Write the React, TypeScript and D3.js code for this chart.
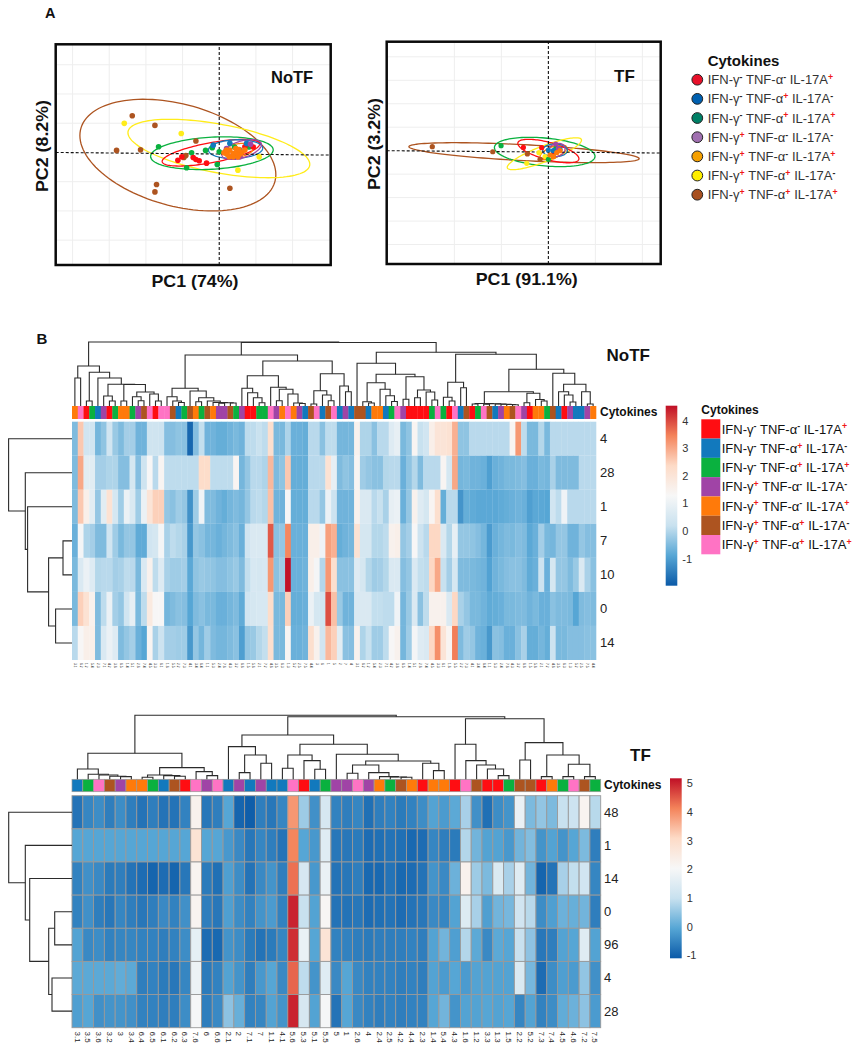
import * as d3 from "d3";
import { useEffect, useRef } from "react";

// cytokine classes
const classColors: Record<string, string> = {
  R: "#ff0d12",
  B: "#1279bd",
  G: "#0ab13f",
  P: "#a044a6",
  O: "#ff7a0a",
  N: "#ad5420",
  K: "#ff73c4",
};
const classSigns = [
  ["-", "-", "+"],
  ["-", "+", "-"],
  ["-", "+", "+"],
  ["+", "-", "-"],
  ["+", "-", "+"],
  ["+", "+", "-"],
  ["+", "+", "+"],
];
const pcaLegendColors = ["#e8102a", "#0060b0", "#008066", "#a070b0", "#f5a000", "#ffee00", "#a85020"];
const heatLegendClasses = ["R", "B", "G", "P", "O", "N", "K"];

// PCA, NoTF: [pc1, pc2]
const noTfBrown = [[-11.86, 2.51], [-8.77, 1.85], [-14, 0.14], [-10.73, 0.18], [-3.18, 0.78], [-8.55, -2.19], [-8.77, -2.7], [1.45, -2.45], [-4.82, -0.34], [-4.55, -0.21]];
const noTfYellow = [[-12.95, 1.99], [-5.18, 1.3], [2.55, -1.21], [5.45, -0.3]];
const noTfGreen = [[-8.27, 0.39], [-3.77, -0.02], [-4.45, -1.05], [-1.86, 0.14], [-0.95, 0.32], [-0.27, -0.82], [0, 0.05], [2.09, 0.37], [4.05, 0.37]];
const noTfRed = [[-5.64, -0.53], [-3.55, -0.34], [-3.18, -0.48], [-2.73, -0.57], [-1.73, -0.73], [-5.1, -0.3], [4.64, 0.37], [3.5, 0.39], [1.91, -0.18]];
const noTfBlue = [[-0.82, 0.5], [1.45, 0.62], [2.82, 0.16], [3.73, 0.62]];
const noTfPurple = [[1, 0.27], [4.27, 0.57], [2.82, -0.3]];
const noTfOrange = [[0.64, -0.02], [1.09, -0.11], [1.45, 0.16], [1.91, -0.07], [2.27, 0.27], [2.55, -0.3], [3.05, -0.02], [3.5, 0.16], [1.91, -0.3], [1.36, -0.3], [1, 0.16], [2.82, -0.11], [2.36, -0.02], [2.7, 0.2]];

// PCA, TF
const tfBrown = [[-24.7, 0.34], [-11.84, -0.09], [-4.47, -0.28], [-1.77, -0.74], [1.06, -0.5]];
const tfYellow = [[-1.99, -0.17], [-4.6, -1.08], [-0.7, -0.5]];
const tfGreen = [[-10.07, 0.43], [0, -0.74], [1.6, 0.2]];
const tfRed = [[-5.32, 0.28], [-1.42, 0.26], [1.06, -0.09]];
const tfBlue = [[0, 0.06], [2.48, 0.11], [1.06, 0]];
const tfPurple = [[1.56, 0.57], [2.13, 0.2]];
const tfOrange = [[0.35, -0.37], [1.06, -0.51], [1.77, -0.17], [2.48, 0]];

// ellipses: [cx, cy, xr, yr, rho]
const noTfEllipses: [string, number[]][] = [
  ["N", [-5.64, -0.18, 13.36, 3.82, -0.35]],
  ["Y", [-0.05, 0.27, 12.4, 2.0, -0.54]],
  ["G", [-1.0, -0.05, 8.36, 1.12, 0.2]],
  ["R", [-1.14, -0.02, 6.64, 0.91, 0.65]],
  ["B", [2.23, 0.23, 3.7, 0.64, 0.1]],
  ["P", [3.05, 0.2, 2.7, 0.68, 0.5]],
  ["O", [2.6, 0.14, 2.05, 0.48, 0.3]],
];
const tfEllipses: [string, number[]][] = [
  ["N", [-5.18, -0.17, 24.5, 0.85, -0.6]],
  ["G", [-0.78, -0.11, 10.7, 1.25, -0.3]],
  ["Y", [-0.85, -0.26, 7.9, 1.36, 0.85]],
  ["R", [0, -0.03, 6.5, 1, -0.65]],
  ["O", [1.06, -0.14, 2.84, 0.63, 0.6]],
  ["B", [1.42, 0.03, 2.63, 0.54, 0]],
  ["P", [1.77, 0.06, 1.77, 0.57, 0.2]],
];

// heatmap NoTF
const noTfRows = ["4", "28", "1", "7", "10", "0", "14"];
const noTfClasses = "O K R G B P R G O O G P N K R K K N B G N O G N O P P N G P R R G G K P O K O P B N K B N K B P B N N B O O B G K P R R R R G K G R K B N R G K N B P O N K P R O O G N B R P B B P O".split(" ");
const noTfCols = "3.1 6.2 1.2 5.4 2.3 7.1 4.2 3.6 6.5 1.4 5.1 2.6 7.4 4.5 3.3 6.1 1.6 5.5 2.2 7.3 4.1 3.4 6.4 1.1 5.3 2.4 7.6 4.3 3.2 6.6 1.5 5.6 2.1 7.2 4.6 3.5 6.3 1.3 5.2 2.5 7.5 4.4 3 6 1 5 2 7 4 3.1 6.2 1.2 5.4 2.3 7.1 4.2 3.6 6.5 1.4 5.1 2.6 7.4 4.5 3.3 6.1 1.6 5.5 2.2 7.3 4.1 3.4 6.4 1.1 5.3 2.4 7.6 4.3 3.2 6.6 1.5 5.6 2.1 7.2 4.6 3.5 6.3 1.3 5.2 2.5 7.5 4.4".split(" ");
const noTfDay4 = [-0.5, 2.6, 0.4, 0.4, -0.6, -0.35, 0.4, -0.25, -0.5, -0.15, -0.15, -0.65, -0.65, 0.35, 0.35, 0.3, -0.45, -0.45, -0.35, -0.4, -1.8, -0.45, 0.15, -0.65, -0.65, -0.75, -0.75, -0.65, -0.55, -0.65, 0.1, 0.1, 0.25, 0.1, 2.2, -0.55, -0.55, -0.05, -0.7, -0.7, -0.75, 0.05, 0.05, -0.4, 0.1, 0.1, -0.6, -0.6, -0.6, 1.5, -0.05, -0.05, -0.4, 0.05, 0.05, 0.7, 0.9, -0.55, -0.35, 1.4, 0.2, 0.4, 1.6, 2, 2, 2.1, 2.9, -0.35, -0.35, 0.05, 0.05, 0.05, 0.05, 0.05, 0.05, 0.05, 1.4, 3.2, 0.1, -0.55, -0.55, 0, -0.55, 0.05, 0.05, 0.05, 0.05, 0.05, 0.05, 0.05, 0.05];
const noTfDay28 = [-0.5, 3, 0.8, 0.8, -0.15, -0.15, -0.05, -0.05, -0.45, -0.45, 0.5, -0.45, 0.35, 1.3, 0.05, 1.4, 0.1, 0.1, 0.1, 0.1, 0.1, 0.1, 2.3, 2.3, 0.1, 0.1, 0.1, 0.1, 1.4, -0.6, -0.3, 0.05, 0.05, -0.05, 2.8, -0.5, -0.35, 2.6, -0.75, -0.75, -0.75, 0.05, 0.05, 0.05, 2.1, 0.9, -0.5, -0.35, -0.45, 1.4, -0.2, -0.3, -0.4, -0.4, 0, 0.05, 0.05, -0.7, -0.35, 0, -0.5, 0.05, 0.05, 0.05, 1.4, 0.5, 3, -0.6, -0.55, -0.65, -0.65, -0.7, -1, -0.7, -0.65, -0.55, -0.55, -0.5, -0.45, -0.7, -0.7, -0.55, -0.6, -0.1, -0.5, -0.5, -0.5, -0.5, 0.05, 0.05, 0.05];
const noTfDay1 = [-0.5, 2.6, 1.6, 0.8, -0.3, 0.8, 2.1, 0.5, -0.2, 1, 0.6, -0.2, 1, 2, 2.5, 2.5, -0.3, -0.4, -0.2, -0.3, -1.2, -0.2, 1.1, -0.5, -0.5, -0.65, -0.75, -0.6, -0.5, -0.6, -0.3, 0.05, 0.1, 0, 2.7, -0.65, -0.65, 1.3, -0.75, -0.75, -0.75, 0.05, 0.05, -0.3, 1, 0.3, -0.65, -0.65, -0.65, 1.5, 0.6, 0.6, 0.05, 0.2, -0.1, 0.9, 1, -0.7, -0.3, 1.5, 0.7, 0.5, 1.4, 2.2, -0.75, 0.05, 0.05, -1.15, -0.75, -0.8, -0.85, -0.85, -0.85, -0.85, -0.8, -0.75, -0.7, -0.65, -0.7, -1, -0.85, -0.85, -0.9, 0.4, 0.1, 1.1, 0.05, 0.05, 0.05, 0.05, 0.05];
const noTfDay7 = [-0.7, 1.2, -0.05, -0.15, -0.5, -0.5, 0.4, -0.2, -0.55, -0.3, -0.3, -0.8, -0.8, 0.4, 0.5, 1.2, -0.1, 0.1, 0, -0.1, -1.1, -0.3, -0.4, -0.6, -0.6, -0.7, -0.6, -0.5, -0.4, -0.7, 0.4, 0.6, 0.6, 0.6, 3.85, -0.4, -0.3, 3.4, -0.7, -0.7, -0.7, 1.6, 1.6, 1.1, 3.1, 2.9, -0.75, -0.65, -0.6, 2.1, 0.5, 0.5, 0, 0, 0.1, 1.5, 1.6, -0.3, -0.15, 1.3, 0.3, 0.05, 2.4, 2.4, 0.6, 0, 0.9, -0.3, -0.3, -0.35, -0.45, -0.6, -1.05, -0.7, -0.6, -0.5, -0.55, -0.45, -0.5, -0.85, -0.7, -0.15, -0.55, -0.6, -0.3, -0.3, -0.65, -0.65, -0.3, -0.45, -0.45];
const noTfDay10 = [-0.55, 0.6, 1, 0.7, 0, 0.05, 0.05, -0.15, -0.1, 0.1, 0.05, -0.55, 0.6, 1.5, 0.1, 0.7, -0.1, -0.2, -0.2, -0.15, -0.85, -0.35, -0.25, -0.3, -0.35, -0.45, -0.45, -0.35, -0.25, -0.5, 0.15, 0.55, 0.5, 0.55, 3.2, -0.4, -0.2, 4.5, -0.7, -0.7, -0.65, 1.6, 1.2, 0, 3.2, 2.2, -0.4, -0.4, -0.4, 0.7, 0.5, 0, -0.2, -0.15, 0, 0.6, 0.6, -0.45, -0.3, 0.6, 0.15, 0.1, 2.4, 3, 0.2, -0.15, 0.5, -0.5, -0.5, -0.55, -0.6, -0.65, -0.95, -0.65, -0.55, -0.45, -0.4, -0.4, -0.5, -0.8, -0.7, 0.3, -0.7, 0.5, -0.3, -0.3, -0.5, -0.25, 0.6, -0.1, -0.4];
const noTfDay0 = [-0.55, 2.5, 2.1, 1.5, -0.5, 0.1, 1, -0.15, -0.3, 0.4, 0.9, -0.55, 0.1, 1.8, 1.3, 1.3, -0.6, -0.5, -0.4, -0.45, -0.9, -0.5, -0.4, -0.55, -0.55, -0.7, -0.7, -0.6, -0.5, -0.8, 0.4, 0.5, 0.55, 0.55, 2.3, -0.55, -0.55, 2.5, -0.75, -0.75, -0.7, 1, 0.5, 0.4, 3.95, 2.7, -0.25, -0.65, -0.65, 0.6, 0.6, 0.6, 0.15, 0.15, 0.1, 0.1, 1.1, -0.6, -0.25, 0.6, -0.4, 0.1, 1.5, 1.5, 1.5, 0.6, 2.4, -0.1, -0.3, -0.55, -0.55, -0.65, -0.8, -0.75, -0.7, -0.55, -0.55, -0.5, -0.5, -0.65, -0.55, -0.7, -0.7, -0.4, -0.5, -0.5, -0.55, -0.9, -0.5, -0.45, -0.5];
const noTfDay14 = [0.05, 1.3, 1.6, 1.6, -0.5, 0.6, 1, 0.7, -0.5, -0.3, -0.15, -0.7, -0.9, 1.4, -0.1, 0.3, -0.15, -0.15, -0.2, -0.2, -1.1, -0.3, -0.6, -0.2, -0.5, -0.6, -0.6, -0.5, -0.4, -1, -0.3, -0.25, 0, 0.15, 2.2, -0.55, -0.55, 1.4, -0.7, -0.7, -0.65, 2.2, 1.5, 0.4, 2.8, 2.5, 0.8, -0.4, -0.45, 1.5, -0.05, 0.2, -0.2, -0.2, 0.1, 1.3, 1.5, -0.6, -0.2, 1.2, 0.7, 0.6, 2.4, 3.3, 2, 1.4, 3.5, -0.5, -0.2, -0.3, -0.65, -0.7, -1.1, -0.4, -0.45, -0.7, -0.7, -0.4, -0.1, -0.75, -0.75, -0.6, -0.75, 0.3, -0.55, -0.55, -0.45, -0.45, -0.45, -0.4, -0.4];
const noTfMatrix = [noTfDay4, noTfDay28, noTfDay1, noTfDay7, noTfDay10, noTfDay0, noTfDay14];

// heatmap TF
const tfRows = ["48", "1", "14", "0", "96", "4", "28"];
const tfClasses = "B G K N P O O G B N R K P K B P B P B B K R B G P P K P O G N O R O O R K N R R G N N R O G K N G".split(" ");
const tfCols = "3.1 3.5 3.6 3.2 3 3.4 6.4 6.5 6.1 6.2 6.3 7.6 6 6.6 2.1 2 7.1 7 1.1 4.1 5.6 5.3 5.1 5.5 5 1 2.6 4 2.4 2.5 4.2 4.4 2.3 1.4 5.4 4.3 1.6 1.2 3.3 1.3 1.5 2.2 5.2 7.3 7.4 4.5 4.6 7.2 7.5".split(" ");
const tfDay48 = [-0.75, -0.5, -0.4, -0.6, -0.4, -0.6, -0.75, -0.6, -0.75, -0.75, -0.55, 2.25, -0.7, -0.6, -0.05, -0.95, -1.05, -0.6, -0.7, -0.5, 3.9, 0.6, -0.35, 1.3, -0.55, -0.6, -0.5, -0.8, -0.6, -0.55, -0.65, -0.55, -0.4, -0.1, -0.2, 0, 0.7, -0.35, -0.8, -0.4, -0.3, 1.75, 0.3, 0.5, 0.3, 1, 1.1, 2.2, 0.85];
const tfDay1 = [-0.05, -0.05, -0.05, -0.05, -0.05, -0.05, -0.05, -0.05, -0.05, -0.05, -0.05, 2.8, -0.05, -0.05, -0.25, -0.45, -0.7, -0.5, -0.6, -0.75, 4.1, -0.05, -0.25, 1.5, -0.7, -0.7, -0.65, -0.85, -0.8, -0.75, -0.8, -0.9, -0.85, -0.5, -0.6, -0.65, 0.8, 0.2, -0.1, -0.1, -0.25, 0.2, 0.35, -0.3, -0.1, -0.3, -0.05, 0.3, -0.6];
const tfDay14 = [-0.55, -0.35, -0.45, -0.65, -0.6, -0.75, -0.85, -0.95, -0.85, -0.95, -0.7, 2.2, -0.65, -0.8, -0.15, -0.4, -0.75, -0.45, -0.3, -0.6, 4.3, 1.3, -0.25, 1.75, -0.75, -0.7, -0.6, -0.9, -0.9, -0.75, -0.9, -0.85, -0.75, -0.3, -0.45, 0.15, 2.25, 0.6, 0.3, 1.4, 0.7, 1.5, 0.2, -0.95, -0.75, 0.7, 0.95, 1.2, -0.5];
const tfDay0 = [-0.55, -0.35, -0.6, -0.7, -0.5, -0.6, -0.7, -0.6, -0.45, -0.55, -0.35, 2.2, -0.6, -0.7, -0.15, -0.4, -0.55, -0.3, -0.2, -0.55, 5, 1, -0.1, 2.1, -0.75, -0.75, -0.7, -0.85, -0.8, -0.75, -0.85, -0.75, -0.7, -0.45, -0.5, -0.1, 1.45, 0.7, -0.15, 0.2, 0.25, 1.2, 0.85, -0.4, -0.15, 0.15, 0.1, 0.2, -0.6];
const tfDay96 = [-0.1, -0.45, -0.4, -0.55, -0.5, -0.5, -0.55, -0.55, -0.6, -0.55, -0.4, 1.65, -0.85, -0.9, -0.3, -0.4, -0.65, -0.75, -0.65, -0.5, 4.9, 1.75, -0.05, 2.75, -0.55, -0.55, -0.6, -0.65, -0.6, -0.6, -0.6, -0.55, -0.6, -0.1, 0.2, -0.15, 0.8, 0, -0.45, 0, -0.05, 1, 0.45, -0.7, -0.6, -0.1, -0.05, 1.5, -0.1];
const tfDay4 = [0, 0, 0, 0, 0.05, 0, -0.6, -0.55, -0.65, -0.7, -0.5, 1.8, -0.65, -0.55, -0.1, -0.3, -0.6, -0.25, -0.05, -0.45, 4.4, 0.9, -0.3, 1.5, -0.45, -0.05, -0.45, -0.55, -0.55, -0.55, -0.6, -0.55, -0.6, -0.1, -0.2, -0.05, -0.2, -0.1, -0.1, -0.1, -0.1, 1.4, 0.25, -0.85, -0.4, -0.15, -0.2, 0.5, -0.35];
const tfDay28 = [-0.15, -0.05, -0.35, -0.3, -0.3, -0.35, -0.55, -0.55, -0.6, -0.6, -0.4, 2, -0.6, -0.45, 0.45, 0.1, -0.55, -0.5, -0.1, -0.3, 5, 1.3, -0.1, 2, -0.75, -0.05, -0.45, -0.55, -0.6, -0.55, -0.6, -0.55, -0.55, -0.05, 0.2, -0.3, -0.1, -0.1, -0.05, -0.1, -0.05, -0.5, -0.1, -0.55, -0.4, 0.05, 0.15, 0.45, -0.2];
const tfMatrix = [tfDay48, tfDay1, tfDay14, tfDay0, tfDay96, tfDay4, tfDay28];

// dendrograms: [merge height, left, right], a number is a leaf
const noTfGroupA = [40, [28, 0, 1], [33.7, [5, 2, 3], [28, 4, [21.7, [10, 5, [5, 6, 7]], [21.5, [5, 8, 9], [14, [9.3, 10, [5.3, 11, 12]], [12, 13, [5, 14, 15]]]]]]]];
const noTfGroupB = [51,
  [17.7, [9.3, 16, [5, 17, [3.5, 18, 19]]], [15, 20, [8.3, [4.3, 21, 22], [5, 23, [3.5, 24, [3.2, [2.8, 25, 26], [3, 27, 28]]]]]]],
  [45, [30.3, [17.7, 29, [13.3, 30, [8.3, 31, [3.3, 32, 33]]]], [18.7, 34, [16.7, [5.3, 35, 36], [12, 37, [3, 38, [2.5, 39, 40]]]]]], [32.3, [15.3, [2, 41, 42], [11, 43, [5.3, 44, 45]]], [20, 46, [14.3, 47, 48]]]]];
const noTfGroupC = [42.7, 49, [31.7, [23.3, [4.3, 50, [3, 51, 52]], [16.7, 53, [10.3, 54, [4.5, 55, 56]]]], [29.3, [6.7, 57, 58], [16, [8.3, 59, 60], [14, 61, [6, 62, 63]]]]]];
const noTfGroupD = [51.7, [23.7, [8.7, 64, [5, 65, 66]], [18.3, 67, 68]], [36.7, [14.3, [2.5, [2, 69, 70], [2.3, [1.8, 71, 72], [2, 73, [1.7, 74, [1.5, 75, [1.3, 76, 77]]]]]], [12.7, [3.3, 78, 79], [6.5, 80, [5, 81, 82]]]], [32.7, 83, [21.7, [14.3, 84, [11, 85, [4, 86, 87]]], [14.3, 88, [2, 89, 90]]]]]];
const noTfColTree = [64, noTfGroupA, [63.5, noTfGroupB, [53.7, noTfGroupC, noTfGroupD]]];
const noTfRowTree = [63.4, 0, [46.7, 1, [44.4, 2, [23.4, [9, 3, 4], [16.4, 5, 6]]]]];

const tfGroupA = [26, [10.3, 0, [5, 1, [4.3, 2, [3, 3, [2.7, 4, 5]]]]], [11.7, [4.3, [2, 6, 7], [3.7, 8, [3, 9, 10]]], [7.7, 11, [3.7, 12, 13]]]];
const tfGroupB = [44.3, [32.7, 14, [24.3, [6.7, 15, 16], [16, 17, 18]]], [35, [24.3, [11, 19, 20], [18.7, 21, [10, 22, 23]]], [25, 24, [18.3, [14.3, [6, 25, 26], [6.7, 27, [2.7, 28, [2.3, 29, [2, 30, 31]]]]], [16, 32, [8.7, 33, 34]]]]]];
const tfGroupC = [60.5, [35, 35, [18.7, 36, [14.3, 37, [10.3, 38, [3.7, 39, 40]]]]], [36.7, [19.3, 41, 42], [24.3, [2.7, 43, 44], [15, [2.7, 45, 46], [2.7, 47, 48]]]]];
const tfColTree = [64, tfGroupA, [62.5, tfGroupB, tfGroupC]];
const tfRowTree = [63.3, 0, [46.7, 1, [42.3, 2, [23.3, [17.3, 3, 4], [20, 5, 6]]]]];

const heatPalette = ["#0b5aa8", "#56a6d5", "#c8e1ef", "#f7f7f7", "#fddbc7", "#f4835a", "#c00f26"];
const pointColors: Record<string, string> = { ...classColors, Y: "#ffec1a" };
const FONT = "'Liberation Sans', Arial, sans-serif";

type Sel = d3.Selection<SVGGElement, unknown, null, undefined>;

function heatScale(min: number, max: number) {
  const step = (max - min) / (heatPalette.length - 1);
  return d3
    .scaleLinear<string>()
    .domain(heatPalette.map((_, i) => min + i * step))
    .range(heatPalette)
    .clamp(true);
}

// small helper: label with superscript signs
function drawClassLabel(
  g: Sel,
  x: number,
  y: number,
  signs: string[],
  size: number,
  fill: string
) {
  const text = g
    .append("text")
    .attr("x", x)
    .attr("y", y)
    .attr("font-size", size)
    .attr("font-family", FONT)
    .attr("fill", fill)
    .style("white-space", "pre");
  const lift = size * 0.33;
  ["IFN-γ", " TNF-α", " IL-17A"].forEach((part, i) => {
    text
      .append("tspan")
      .attr("dy", i === 0 ? 0 : lift)
      .text(part);
    text
      .append("tspan")
      .attr("dy", -lift)
      .attr("font-size", size * 0.68)
      .attr("font-weight", "bold")
      .attr("fill", signs[i] === "+" ? "#f01818" : "#222")
      .text(signs[i]);
  });
}

function drawDendro(
  g: Sel,
  tree: any,
  leafPos: (i: number) => number,
  height: d3.ScaleLinear<number, number>,
  vertical: boolean
) {
  const root: any = d3.hierarchy(tree, (d: any) =>
    Array.isArray(d) ? d.slice(1) : null
  );
  const point = (p: number, h: number) => (vertical ? `${p},${h}` : `${h},${p}`);
  root.eachAfter((n: any) => {
    if (!n.children) {
      n.pos = leafPos(n.data);
      n.hh = height(0);
      return;
    }
    n.pos = d3.mean(n.children, (c: any) => c.pos);
    n.hh = height(n.data[0]);
    const [a, b] = n.children;
    g.append("path")
      .attr(
        "d",
        `M${point(a.pos, a.hh)}L${point(a.pos, n.hh)}L${point(b.pos, n.hh)}L${point(b.pos, b.hh)}`
      )
      .attr("fill", "none")
      .attr("stroke", "#2b2b2b")
      .attr("stroke-width", 1.1);
  });
}

function drawPca(g: Sel, cfg: any) {
  const { frame, xDomain, yDomain, xGrid, yGrid, ellipses, points, tilt } = cfg;
  const x = d3.scaleLinear().domain(xDomain).range([frame[0], frame[1]]);
  const y = d3.scaleLinear().domain(yDomain).range([frame[3], frame[2]]);

  g.selectAll(".gx")
    .data(xGrid)
    .join("line")
    .attr("x1", (d: any) => x(d))
    .attr("x2", (d: any) => x(d))
    .attr("y1", frame[2])
    .attr("y2", frame[3])
    .attr("stroke", "#eeeeee");
  g.selectAll(".gy")
    .data(yGrid)
    .join("line")
    .attr("x1", frame[0])
    .attr("x2", frame[1])
    .attr("y1", (d: any) => y(d))
    .attr("y2", (d: any) => y(d))
    .attr("stroke", "#eeeeee");

  // ellipses
  const angles = d3.range(0, 2 * Math.PI, Math.PI / 60);
  ellipses.forEach(([key, [cx, cy, xr, yr, rho]]: any) => {
    const path = d3
      .line<number>()
      .x((t) => x(cx + xr * Math.cos(t)))
      .y((t) => y(cy + yr * Math.cos(t + Math.acos(rho))))
      .curve(d3.curveLinearClosed);
    g.append("path")
      .attr("d", path(angles))
      .attr("fill", "none")
      .attr("stroke", pointColors[key])
      .attr("stroke-width", 1.3);
  });

  // zero lines
  [
    [[xDomain[0], 0], [xDomain[1], tilt]],
    [[0, yDomain[0]], [0, yDomain[1]]],
  ].forEach(([a, b]) => {
    g.append("line")
      .attr("x1", x(a[0]))
      .attr("y1", y(a[1]))
      .attr("x2", x(b[0]))
      .attr("y2", y(b[1]))
      .attr("stroke", "#111")
      .attr("stroke-width", 1.1)
      .attr("stroke-dasharray", "3,2");
  });

  points.forEach(([key, pts]: any) => {
    g.append("g")
      .selectAll("circle")
      .data(pts)
      .join("circle")
      .attr("cx", (d: any) => x(d[0]))
      .attr("cy", (d: any) => y(d[1]))
      .attr("r", cfg.r)
      .attr("fill", pointColors[key]);
  });

  g.append("rect")
    .attr("x", frame[0])
    .attr("y", frame[2])
    .attr("width", frame[1] - frame[0])
    .attr("height", frame[3] - frame[2])
    .attr("fill", "none")
    .attr("stroke", "#0a0a0a")
    .attr("stroke-width", 2.5);
}

function drawHeatmap(g: Sel, cfg: any) {
  const { xRange, yRange, matrix, rowNames, colNames, classes, annot, color, cellStroke } = cfg;
  const x = d3
    .scaleBand<number>()
    .domain(d3.range(colNames.length))
    .range(xRange);
  const y = d3
    .scaleBand<number>()
    .domain(d3.range(rowNames.length))
    .range(yRange);

  matrix.forEach((row: number[], r: number) => {
    g.append("g")
      .selectAll("rect")
      .data(row)
      .join("rect")
      .attr("x", (_, i) => x(i)!)
      .attr("y", y(r)!)
      .attr("width", x.bandwidth() + (cellStroke ? 0 : 0.3))
      .attr("height", y.bandwidth())
      .attr("fill", (d) => color(d))
      .attr("stroke", cellStroke || "none")
      .attr("stroke-width", cellStroke ? 0.9 : 0);
  });

  g.append("g")
    .selectAll("rect")
    .data(classes as string[])
    .join("rect")
    .attr("x", (_, i) => x(i)!)
    .attr("y", annot[0])
    .attr("width", x.bandwidth() + (cellStroke ? 0 : 0.3))
    .attr("height", annot[1] - annot[0])
    .attr("fill", (d) => classColors[d])
    .attr("stroke", cellStroke || "none")
    .attr("stroke-width", cellStroke ? 0.7 : 0);

  // row labels and column labels
  rowNames.forEach((name: string, r: number) => {
    g.append("text")
      .attr("x", cfg.rowLabelX)
      .attr("y", y(r)! + y.bandwidth() / 2 + 4.5)
      .attr("font-size", 13)
      .attr("font-family", FONT)
      .attr("fill", "#222")
      .text(name);
  });
  colNames.forEach((name: string, i: number) => {
    const cx = x(i)! + x.bandwidth() / 2;
    g.append("text")
      .attr("transform", `translate(${cx},${cfg.colLabelY}) rotate(90)`)
      .attr("dy", "0.35em")
      .attr("font-size", cfg.colLabelSize)
      .attr("font-family", FONT)
      .attr("fill", "#222")
      .text(name);
  });
  g.append("text")
    .attr("x", cfg.rowLabelX)
    .attr("y", cfg.annotLabelY)
    .attr("font-size", 12)
    .attr("font-weight", "bold")
    .attr("font-family", FONT)
    .attr("fill", "#111")
    .text("Cytokines");

  drawDendro(g, cfg.colTree, (i) => x(i)! + x.bandwidth() / 2, d3.scaleLinear().domain([0, cfg.colTree[0]]).range([annot[0], annot[0] - cfg.colTree[0]]), true);
  drawDendro(g, cfg.rowTree, (i) => y(i)! + y.bandwidth() / 2, d3.scaleLinear().domain([0, cfg.rowTree[0]]).range([xRange[0], xRange[0] - cfg.rowTree[0]]), false);
}

function drawColorBar(g: Sel, cfg: any) {
  const { x0, x1, y0, y1, domain, ticks, labelX, id } = cfg;
  const color = heatScale(domain[0], domain[1]);
  const y = d3.scaleLinear().domain(domain).range([y1, y0]);
  const grad = g
    .append("defs")
    .append("linearGradient")
    .attr("id", id)
    .attr("x1", 0)
    .attr("x2", 0)
    .attr("y1", 1)
    .attr("y2", 0);
  heatPalette.forEach((_, i) => {
    const v = domain[0] + (i / (heatPalette.length - 1)) * (domain[1] - domain[0]);
    grad
      .append("stop")
      .attr("offset", i / (heatPalette.length - 1))
      .attr("stop-color", color(v));
  });
  g.append("rect")
    .attr("x", x0)
    .attr("y", y0)
    .attr("width", x1 - x0)
    .attr("height", y1 - y0)
    .attr("fill", `url(#${id})`);
  ticks.forEach((t: number) => {
    g.append("text")
      .attr("x", labelX)
      .attr("y", y(t) + 4)
      .attr("font-size", 11)
      .attr("font-family", FONT)
      .attr("fill", "#333")
      .text(t);
  });
}

function label(g: Sel, x: number, y: number, text: string, size: number, anchor = "start", rotate = 0, stretch?: number) {
  const t = g
    .append("text")
    .attr("transform", `translate(${x},${y}) rotate(${rotate})`)
    .attr("text-anchor", anchor)
    .attr("font-size", size)
    .attr("font-weight", "bold")
    .attr("font-family", FONT)
    .attr("fill", "#111")
    .text(text);
  if (stretch) t.attr("textLength", stretch).attr("lengthAdjust", "spacingAndGlyphs");
}

export default function App() {
  const ref = useRef<SVGSVGElement>(null);

  useEffect(() => {
    if (!ref.current) return;
    d3.select(ref.current).selectAll("*").remove();
    const g = d3.select(ref.current).append("g") as unknown as Sel;

    label(g, 45, 18, "A", 14.5);
    label(g, 36.5, 344, "B", 15);

    // Panel A
    drawPca(g, {
      frame: [55.7, 330.7, 44.3, 265],
      xDomain: [-22.3, 15.2],
      yDomain: [-7.7, 7.4],
      xGrid: [-20, -15, -10, -5, 5, 10],
      yGrid: [-6, -4, -2, 2, 4, 6],
      tilt: -0.18,
      r: 2.8,
      ellipses: noTfEllipses,
      points: [["N", noTfBrown], ["Y", noTfYellow], ["G", noTfGreen], ["R", noTfRed], ["B", noTfBlue], ["P", noTfPurple], ["O", noTfOrange]],
    });
    drawPca(g, {
      frame: [386.7, 660.7, 41.7, 264],
      xDomain: [-34.4, 23.9],
      yDomain: [-9.66, 9.29],
      xGrid: [-20, -10, 10, 20],
      yGrid: [-8, -6, -4, -2, 2, 4, 6, 8],
      tilt: -0.2,
      r: 2.6,
      ellipses: tfEllipses,
      points: [["N", tfBrown], ["Y", tfYellow], ["G", tfGreen], ["R", tfRed], ["B", tfBlue], ["P", tfPurple], ["O", tfOrange]],
    });
    label(g, 271, 83, "NoTF", 16.5);
    label(g, 614, 81.5, "TF", 17);
    label(g, 195, 287, "PC1 (74%)", 16.5, "middle", 0, 87);
    label(g, 526.7, 285, "PC1 (91.1%)", 16.5, "middle", 0, 102);
    label(g, 48, 146, "PC2 (8.2%)", 16.5, "middle", -90, 92);
    label(g, 380, 144, "PC2 (3.2%)", 16.5, "middle", -90, 92);

    // PCA legend
    label(g, 707.7, 65.5, "Cytokines", 15);
    const legendY = d3.scalePoint<number>().domain(d3.range(7)).range([79.7, 194.7]);
    classSigns.forEach((signs, i) => {
      g.append("circle")
        .attr("cx", 697.3)
        .attr("cy", legendY(i)!)
        .attr("r", 5.4)
        .attr("fill", pcaLegendColors[i])
        .attr("stroke", "#222")
        .attr("stroke-width", 1);
      drawClassLabel(g, 707.7, legendY(i)! + 4.6, signs, 13, "#333");
    });

    // Panel B, NoTF
    drawHeatmap(g, {
      xRange: [72, 596],
      yRange: [421.7, 660],
      annot: [406, 419],
      matrix: noTfMatrix,
      rowNames: noTfRows,
      colNames: noTfCols,
      classes: noTfClasses,
      color: heatScale(-1.98, 4.54),
      colTree: noTfColTree,
      rowTree: noTfRowTree,
      rowLabelX: 600,
      annotLabelY: 416,
      colLabelY: 663,
      colLabelSize: 3.2,
    });
    label(g, 606.5, 361, "NoTF", 17);
    drawColorBar(g, {
      id: "bar-notf",
      x0: 665.7,
      x1: 677.3,
      y0: 405.7,
      y1: 585.7,
      domain: [-1.98, 4.54],
      ticks: [4, 3, 2, 1, 0, -1],
      labelX: 682.3,
    });

    // heatmap legend
    label(g, 701.3, 414, "Cytokines", 12);
    const keyY = d3.scaleBand<number>().domain(d3.range(7)).range([419.3, 554.3]);
    classSigns.forEach((signs, i) => {
      g.append("rect")
        .attr("x", 701.3)
        .attr("y", keyY(i)!)
        .attr("width", 19)
        .attr("height", keyY.bandwidth())
        .attr("fill", classColors[heatLegendClasses[i]]);
      drawClassLabel(g, 721.7, keyY(i)! + keyY.bandwidth() / 2 + 4.6, signs, 13, "#111");
    });

    // Panel B, TF
    drawHeatmap(g, {
      xRange: [72, 600.7],
      yRange: [795.7, 1027.7],
      annot: [779.3, 791.7],
      matrix: tfMatrix,
      rowNames: tfRows,
      colNames: tfCols,
      classes: tfClasses,
      color: heatScale(-1.1, 5.18),
      cellStroke: "#999999",
      colTree: tfColTree,
      rowTree: tfRowTree,
      rowLabelX: 604,
      annotLabelY: 789,
      colLabelY: 1031.5,
      colLabelSize: 8,
    });
    label(g, 630, 760.7, "TF", 17);
    drawColorBar(g, {
      id: "bar-tf",
      x0: 670,
      x1: 681.7,
      y0: 778.3,
      y1: 958.3,
      domain: [-1.1, 5.18],
      ticks: [5, 4, 3, 2, 1, 0, -1],
      labelX: 686.7,
    });
  }, []);

  return (
    <svg
      ref={ref}
      width={856}
      height={1050}
      style={{ position: "absolute", left: 0, top: 0, background: "#fff" }}
    />
  );
}
